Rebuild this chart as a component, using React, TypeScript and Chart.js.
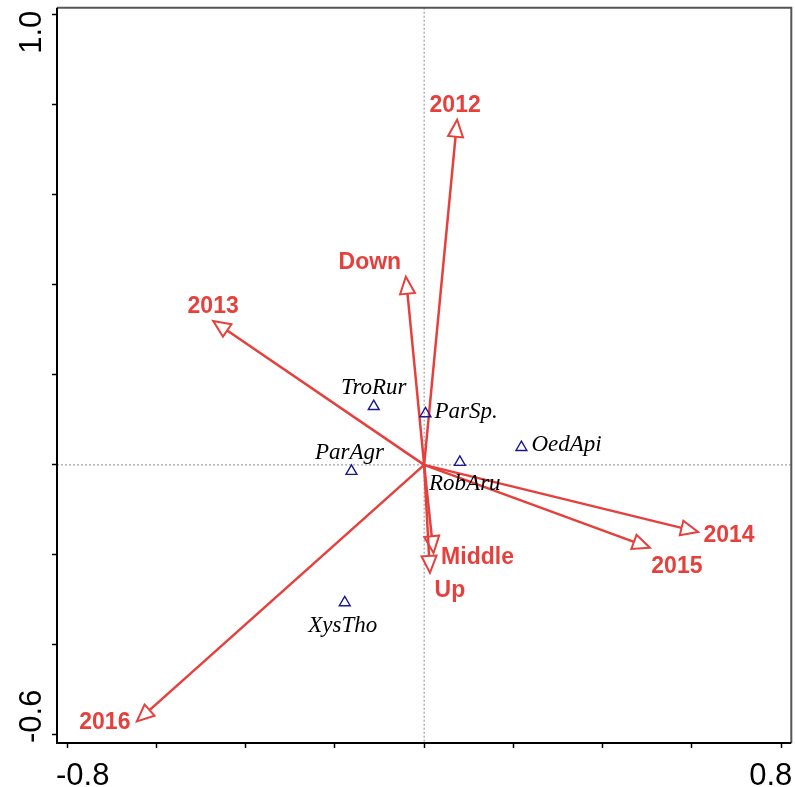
import React, { useEffect, useRef } from "react";
import { Chart, registerables } from "chart.js";

Chart.register(...registerables);

// Species scores (open triangles)
const speciesNames = ["TroRur", "ParSp.", "OedApi", "ParAgr", "RobAru", "XysTho"];
const speciesX = [-0.113, 0.003, 0.218, -0.163, 0.08, -0.178];
const speciesY = [0.13, 0.114, 0.039, -0.014, 0.006, -0.306];

// Explanatory variables (arrows from the origin)
const envNames = ["2012", "2013", "Down", "2014", "2015", "2016", "Middle", "Up"];
const envX = [0.074, -0.473, -0.041, 0.614, 0.506, -0.644, 0.021, 0.013];
const envY = [0.767, 0.32, 0.418, -0.149, -0.184, -0.57, -0.196, -0.24];

// Axis ticks and the two labelled extremes
const xTicks = [-0.8, -0.6, -0.4, -0.2, 0, 0.2, 0.4, 0.6, 0.8];
const yTicks = [-0.6, -0.4, -0.2, 0, 0.2, 0.4, 0.6, 0.8, 1.0];
const xTickLabels = ["-0.8", "0.8"];
const yTickLabels = ["-0.6", "1.0"];

// Label placement (pixel offsets from the mark; align of the text)
const speciesLabelPos: [number, number, CanvasTextAlign][] = [
  [0, -12, "center"],
  [9, 4, "left"],
  [10, 4, "left"],
  [-2, -12, "center"],
  [5, 28, "center"],
  [-2, 29, "center"],
];
const envLabelPos: [number, number][] = [
  [-2, -8],
  [0, -8],
  [-36, -8],
  [31, 10],
  [27, 25],
  [-32, 8],
  [44, 11],
  [20, 24],
];

const RED = "#e6403d";
const NAVY = "#1a1a90";

const biplotPlugin = {
  id: "biplot",
  beforeDatasetsDraw(chart: any) {
    const { ctx, chartArea: a, scales } = chart;
    const xs = scales.x;
    const ys = scales.y;
    const ox = xs.getPixelForValue(0);
    const oy = ys.getPixelForValue(0);

    // zero lines
    ctx.save();
    ctx.strokeStyle = "#8a8a8a";
    ctx.lineWidth = 1;
    ctx.setLineDash([2, 2]);
    ctx.beginPath();
    ctx.moveTo(ox, a.top);
    ctx.lineTo(ox, a.bottom);
    ctx.moveTo(a.left, oy);
    ctx.lineTo(a.right, oy);
    ctx.stroke();
    ctx.restore();

    // arrows
    ctx.save();
    ctx.strokeStyle = RED;
    ctx.lineJoin = "miter";
    const L = 17;
    const W = 7.5;
    for (let i = 0; i < envNames.length; i++) {
      const tx = xs.getPixelForValue(envX[i]);
      const ty = ys.getPixelForValue(envY[i]);
      const dx = tx - ox;
      const dy = ty - oy;
      const len = Math.hypot(dx, dy);
      const ux = dx / len;
      const uy = dy / len;
      const bx = tx - ux * L;
      const by = ty - uy * L;
      ctx.lineWidth = 2.5;
      ctx.beginPath();
      ctx.moveTo(ox, oy);
      ctx.lineTo(bx, by);
      ctx.stroke();
      ctx.lineWidth = 2;
      ctx.beginPath();
      ctx.moveTo(tx, ty);
      ctx.lineTo(bx - uy * W, by + ux * W);
      ctx.lineTo(bx + uy * W, by - ux * W);
      ctx.closePath();
      ctx.fillStyle = "#ffffff";
      ctx.fill();
      ctx.stroke();
    }
    ctx.restore();
  },
  afterDraw(chart: any) {
    const { ctx, chartArea: a, scales } = chart;
    const xs = scales.x;
    const ys = scales.y;

    // frame
    ctx.save();
    ctx.lineWidth = 2;
    ctx.strokeStyle = "#555555";
    ctx.beginPath();
    ctx.moveTo(a.left, a.top);
    ctx.lineTo(a.right, a.top);
    ctx.lineTo(a.right, a.bottom);
    ctx.stroke();
    ctx.strokeStyle = "#000000";
    ctx.beginPath();
    ctx.moveTo(a.left, a.top);
    ctx.lineTo(a.left, a.bottom);
    ctx.lineTo(a.right, a.bottom);
    ctx.stroke();
    ctx.restore();

    // axis extreme labels
    ctx.save();
    ctx.fillStyle = "#000";
    ctx.font = '31px "Liberation Sans", Arial, sans-serif';
    ctx.textBaseline = "alphabetic";
    ctx.textAlign = "left";
    ctx.fillText(xTickLabels[0], a.left - 1, a.bottom + 42);
    ctx.textAlign = "right";
    ctx.fillText(xTickLabels[1], a.right + 1, a.bottom + 42);

    ctx.save();
    ctx.translate(a.left - 16, a.bottom);
    ctx.rotate(-Math.PI / 2);
    ctx.textAlign = "left";
    ctx.fillText(yTickLabels[0], 0, 0);
    ctx.restore();
    ctx.save();
    ctx.translate(a.left - 16, a.top + 3);
    ctx.rotate(-Math.PI / 2);
    ctx.textAlign = "right";
    ctx.fillText(yTickLabels[1], 0, 0);
    ctx.restore();
    ctx.restore();

    // species labels
    ctx.save();
    ctx.fillStyle = "#000";
    ctx.font = 'italic 23px "Liberation Serif", "Times New Roman", serif';
    ctx.textBaseline = "alphabetic";
    for (let i = 0; i < speciesNames.length; i++) {
      const px = xs.getPixelForValue(speciesX[i]);
      const py = ys.getPixelForValue(speciesY[i]);
      const [ddx, ddy, al] = speciesLabelPos[i];
      ctx.textAlign = al;
      ctx.fillText(speciesNames[i], px + ddx, py + ddy);
    }
    ctx.restore();

    // variable labels
    ctx.save();
    ctx.fillStyle = RED;
    ctx.font = 'bold 23px "Liberation Sans", Arial, sans-serif';
    ctx.textBaseline = "alphabetic";
    ctx.textAlign = "center";
    for (let i = 0; i < envNames.length; i++) {
      const px = xs.getPixelForValue(envX[i]);
      const py = ys.getPixelForValue(envY[i]);
      const [ddx, ddy] = envLabelPos[i];
      ctx.fillText(envNames[i], px + ddx, py + ddy);
    }
    ctx.restore();
  },
};

export default function App() {
  const canvasRef = useRef<HTMLCanvasElement | null>(null);

  useEffect(() => {
    const canvas = canvasRef.current;
    if (!canvas) return;
    const chart = new Chart(canvas, {
      type: "scatter",
      data: {
        datasets: [
          {
            label: "species",
            data: speciesX.map((x, i) => ({ x, y: speciesY[i] })),
            pointStyle: "triangle",
            pointRadius: 6.3,
            pointHoverRadius: 6.3,
            borderColor: NAVY,
            backgroundColor: "rgba(0,0,0,0)",
            pointBorderWidth: 1.4,
          },
        ],
      },
      options: {
        responsive: false,
        animation: false,
        devicePixelRatio: 1,
        layout: { padding: { top: 7, right: 3, left: 0, bottom: 0 } },
        plugins: {
          legend: { display: false },
          tooltip: { enabled: false },
        },
        events: [],
        scales: {
          x: {
            type: "linear",
            min: -0.823,
            max: 0.823,
            afterBuildTicks: (s: any) => {
              s.ticks = xTicks.map((v) => ({ value: v }));
            },
            afterFit: (s: any) => {
              s.height = 44;
            },
            ticks: { display: false },
            grid: {
              drawOnChartArea: false,
              drawTicks: true,
              tickLength: 5,
              tickColor: "#000",
              tickWidth: 1.5,
            },
            border: { display: false },
          },
          y: {
            type: "linear",
            min: -0.618,
            max: 1.016,
            afterBuildTicks: (s: any) => {
              s.ticks = yTicks.map((v) => ({ value: v }));
            },
            afterFit: (s: any) => {
              s.width = 57;
            },
            ticks: { display: false },
            grid: {
              drawOnChartArea: false,
              drawTicks: true,
              tickLength: 5,
              tickColor: "#000",
              tickWidth: 1.5,
            },
            border: { display: false },
          },
        },
      },
      plugins: [biplotPlugin],
    });
    return () => chart.destroy();
  }, []);

  return (
    <div
      style={{
        position: "absolute",
        left: 0,
        top: 0,
        width: 795,
        height: 787,
        overflow: "hidden",
        background: "#fff",
      }}
    >
      <canvas ref={canvasRef} width={799} height={787} style={{ display: "block" }} />
    </div>
  );
}
